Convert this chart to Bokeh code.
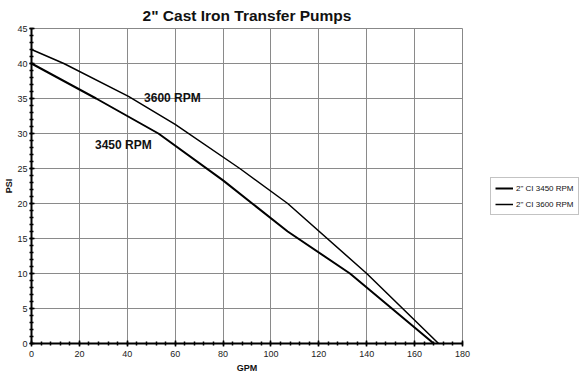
from bokeh.plotting import figure
from bokeh.layouts import row
from bokeh.models import Range1d, SingleIntervalTicker, Legend, LegendItem, ColumnDataSource
from bokeh.core.properties import value
from bokeh.embed import file_html
from bokeh.resources import INLINE

title = '2" Cast Iron Transfer Pumps'
gpm_3450 = [0, 27, 53, 80, 107, 133, 168]
psi_3450 = [40, 35, 30, 23.3, 16, 10, 0]
gpm_3600 = [0, 13.5, 40.5, 60, 87, 107, 140, 170]
psi_3600 = [42, 40, 35.3, 31.3, 25, 20, 10, 0]
series_names = ['2" CI 3450 RPM', '2" CI 3600 RPM']
note_text = ["3600 RPM", "3450 RPM"]
note_x = [47.0, 26.5]
note_y = [35.1, 28.4]

FONT = "Liberation Sans"

p = figure(width=472, height=376, output_backend="svg", toolbar_location=None,
           x_range=Range1d(0, 180), y_range=Range1d(0, 45),
           min_border_left=31, min_border_right=10, min_border_top=28, min_border_bottom=33)
p.title.text = title
p.title.align = "center"
p.title.text_font = FONT
p.title.text_font_size = "15.5px"
p.title.text_font_style = "bold"
p.title.text_color = "#111111"
p.title.offset = 0
p.title.standoff = 9

p.background_fill_color = "white"
p.border_fill_color = "white"
p.outline_line_color = "#888888"
p.outline_line_width = 1

p.xaxis.ticker = SingleIntervalTicker(interval=20, num_minor_ticks=5)
p.yaxis.ticker = SingleIntervalTicker(interval=5, num_minor_ticks=5)
for ax in (p.xaxis, p.yaxis):
    ax.axis_line_width = 2
    ax.axis_line_color = "black"
    ax.major_tick_line_color = "black"
    ax.major_tick_line_width = 1.5
    ax.major_tick_in = 3
    ax.major_tick_out = 3
    ax.minor_tick_line_color = "black"
    ax.minor_tick_line_width = 1.5
    ax.minor_tick_in = 2
    ax.minor_tick_out = 2
    ax.major_label_text_font = FONT
    ax.major_label_text_font_size = "9px"
    ax.major_label_text_color = "#222222"
    ax.major_label_standoff = 4
    ax.axis_label_text_font = FONT
    ax.axis_label_text_font_size = "9px"
    ax.axis_label_text_font_style = "bold"
    ax.axis_label_text_color = "#111111"
    ax.axis_label_standoff = 3
p.xaxis.axis_label = "GPM"
p.yaxis.axis_label = "PSI"
p.yaxis.major_label_standoff = 2
p.yaxis.axis_label_standoff = 0
p.yaxis.major_tick_out = 2

p.xgrid.grid_line_color = "#8a8a8a"
p.ygrid.grid_line_color = "#8a8a8a"
p.xgrid.grid_line_width = 1
p.ygrid.grid_line_width = 1

p.line(gpm_3450, psi_3450, line_color="black", line_width=2)
p.line(gpm_3600, psi_3600, line_color="black", line_width=1.5)

src = ColumnDataSource(dict(x=note_x, y=note_y, t=note_text))
p.text(x="x", y="y", text="t", source=src, text_font=value(FONT),
       text_font_size="12px", text_font_style="bold", text_color="#111111",
       text_baseline="middle", text_align="left")

# legend panel (separate figure so the legend is not clipped)
q = figure(width=111, height=376, output_backend="svg", toolbar_location=None,
           x_range=Range1d(0, 1), y_range=Range1d(0, 1),
           x_axis_type=None, y_axis_type=None,
           min_border=0, min_border_left=0, min_border_right=0,
           min_border_top=0, min_border_bottom=0)
q.outline_line_color = None
q.xgrid.visible = False
q.ygrid.visible = False
q.background_fill_color = "white"
q.border_fill_color = "white"
l1 = q.line(x=[5, 6], y=[5, 6], line_color="black", line_width=2)
l2 = q.line(x=[5, 6], y=[5, 6], line_color="black", line_width=1.5)

legend = Legend(items=[LegendItem(label=series_names[0], renderers=[l1]),
                       LegendItem(label=series_names[1], renderers=[l2])],
                location=(18, 128))
legend.label_text_font = FONT
legend.label_text_font_size = "8px"
legend.label_text_color = "#111111"
legend.border_line_color = "#888888"
legend.border_line_width = 1
legend.glyph_width = 18
legend.glyph_height = 12
legend.label_standoff = 3
legend.spacing = 4
legend.padding = 4
legend.margin = 0
legend.label_height = 12
q.add_layout(legend, "center")

layout = row(p, q, spacing=0)
open("out.html", "w").write(file_html(layout, INLINE))
